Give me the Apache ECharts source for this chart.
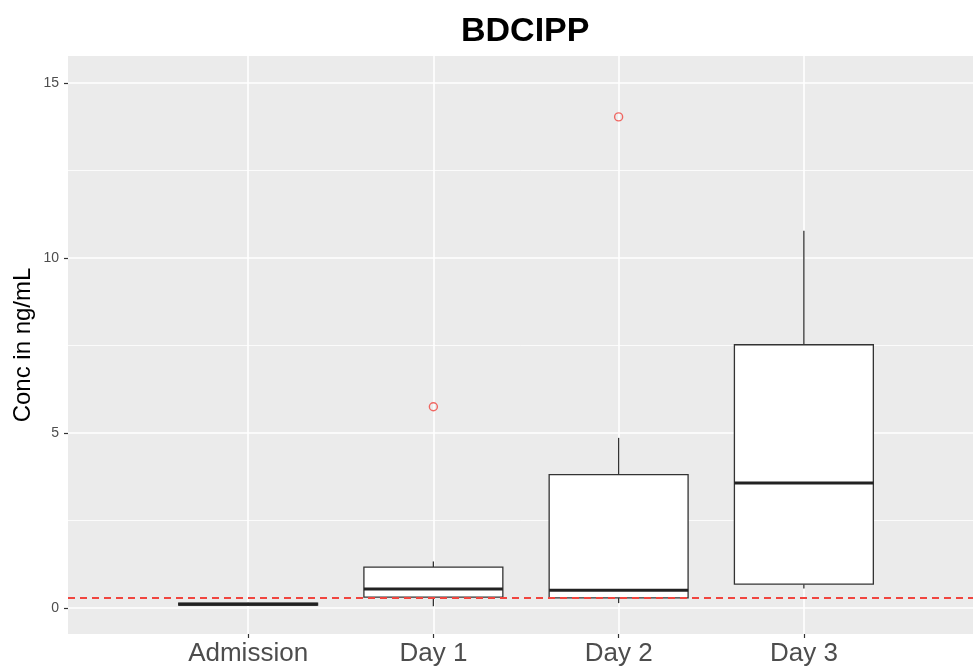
<!DOCTYPE html>
<html>
<head>
<meta charset="utf-8">
<script src="https://cdn.jsdelivr.net/npm/echarts@6/dist/echarts.min.js"></script>
<style>
  html, body { margin: 0; background: #fff; }
  #chart { width: 973px; height: 666px; }
</style>
</head>
<body>
<div id="chart"></div>
<script>
// categories and box statistics
const days = ['Admission', 'Day 1', 'Day 2', 'Day 3'];
const lows = [0.06, 0.05, 0.14, 0.56];
const q1s = [0.08, 0.31, 0.29, 0.68];
const medians = [0.11, 0.54, 0.51, 3.57];
const q3s = [0.14, 1.17, 3.81, 7.52];
const highs = [0.15, 1.33, 4.86, 10.78];
// outliers: index of the day, value
const outlierDays = [1, 2];
const outlierValues = [5.75, 14.03];
const yTicks = [0, 5, 10, 15];
const refLine = 0.3;

const yMin = -0.743, yMax = 15.77;
const font = 'Liberation Sans, Arial, sans-serif';

const chart = echarts.init(document.getElementById('chart'));

// draw one ggplot style box: whiskers, white box, thick median
function renderBox(params, api) {
    const x = api.value(0);
    const low = api.coord([x, api.value(1)]);
    const q1 = api.coord([x, api.value(2)]);
    const med = api.coord([x, api.value(3)]);
    const q3 = api.coord([x, api.value(4)]);
    const high = api.coord([x, api.value(5)]);
    const half = api.size([1, 0])[0] * 0.75 / 2;
    const cx = q1[0];
    const line = { stroke: '#333', lineWidth: 1.3 };
    return {
        type: 'group',
        children: [
            { type: 'line', shape: { x1: cx, y1: high[1], x2: cx, y2: q3[1] }, style: line },
            { type: 'line', shape: { x1: cx, y1: q1[1], x2: cx, y2: low[1] }, style: line },
            { type: 'rect', shape: { x: cx - half, y: q3[1], width: half * 2, height: q1[1] - q3[1] },
              style: { fill: '#fff', stroke: '#333', lineWidth: 1.3 } },
            { type: 'line', shape: { x1: cx - half, y1: med[1], x2: cx + half, y2: med[1] },
              style: { stroke: '#222', lineWidth: 3 } }
        ]
    };
}

const option = {
    animation: false,
    title: {
        text: 'BDCIPP',
        left: 456,
        top: 10,
        textStyle: { fontFamily: font, fontSize: 34, fontWeight: 'bold', color: '#000' }
    },
    grid: [
        // full panel: background + horizontal grid lines
        { left: 68, right: 0, top: 56, bottom: 32, outerBoundsMode: 'none', containLabel: false,
          show: true, backgroundColor: '#EBEBEB', borderWidth: 0 },
        // boxes, one band of 185px per day
        { left: 155.5, right: 76.5, top: 56, bottom: 32, outerBoundsMode: 'none', containLabel: false }
    ],
    xAxis: [
        { gridIndex: 0, type: 'value', show: false, min: 0, max: 1 },
        {
            gridIndex: 1,
            type: 'category',
            position: 'bottom',
            data: days,
            axisLine: { show: false, onZero: false },
            axisTick: { show: true, alignWithLabel: true, length: 4, lineStyle: { color: '#333', width: 1.2 } },
            axisLabel: { color: '#4d4d4d', fontFamily: font, fontSize: 26, margin: 7 },
            splitLine: { show: true, alignWithLabel: true, lineStyle: { color: '#fff', width: 1.6 } }
        }
    ],
    yAxis: [
        {
            gridIndex: 0,
            type: 'value',
            min: yMin,
            max: yMax,
            splitNumber: 3,
            name: 'Conc in ng/mL',
            nameLocation: 'middle',
            nameGap: 33,
            nameMoveOverlap: false,
            nameRotate: 90,
            nameTextStyle: { color: '#000', fontFamily: font, fontSize: 24 },
            axisLine: { show: false },
            axisTick: { show: true, customValues: yTicks, length: 4, lineStyle: { color: '#333', width: 1.2 } },
            axisLabel: { customValues: yTicks, color: '#4d4d4d', fontFamily: font, fontSize: 14, margin: 9 },
            splitLine: { show: true, lineStyle: { color: '#fff', width: 1.6 } },
            minorTick: { show: false, splitNumber: 2 },
            minorSplitLine: { show: true, lineStyle: { color: '#fff', width: 0.8 } }
        },
        { gridIndex: 1, type: 'value', min: yMin, max: yMax, show: false, splitLine: { show: false } }
    ],
    series: [
        {
            type: 'custom',
            xAxisIndex: 1,
            yAxisIndex: 1,
            renderItem: renderBox,
            encode: { x: 0, y: [1, 2, 3, 4, 5] },
            data: days.map((d, i) => [i, lows[i], q1s[i], medians[i], q3s[i], highs[i]]),
            z: 3
        },
        {
            type: 'scatter',
            xAxisIndex: 1,
            yAxisIndex: 1,
            symbol: 'circle',
            symbolSize: 8,
            itemStyle: { color: 'rgba(0,0,0,0)', borderColor: '#f0453f', borderWidth: 1.4 },
            data: outlierDays.map((d, i) => [d, outlierValues[i]]),
            z: 4
        },
        {
            type: 'line',
            xAxisIndex: 0,
            yAxisIndex: 0,
            data: [],
            z: 5,
            markLine: {
                silent: true,
                symbol: 'none',
                label: { show: false },
                lineStyle: { color: '#f0453f', type: [7, 5], width: 1.8 },
                data: [{ yAxis: refLine }]
            }
        }
    ]
};

chart.setOption(option);
</script>
</body>
</html>
